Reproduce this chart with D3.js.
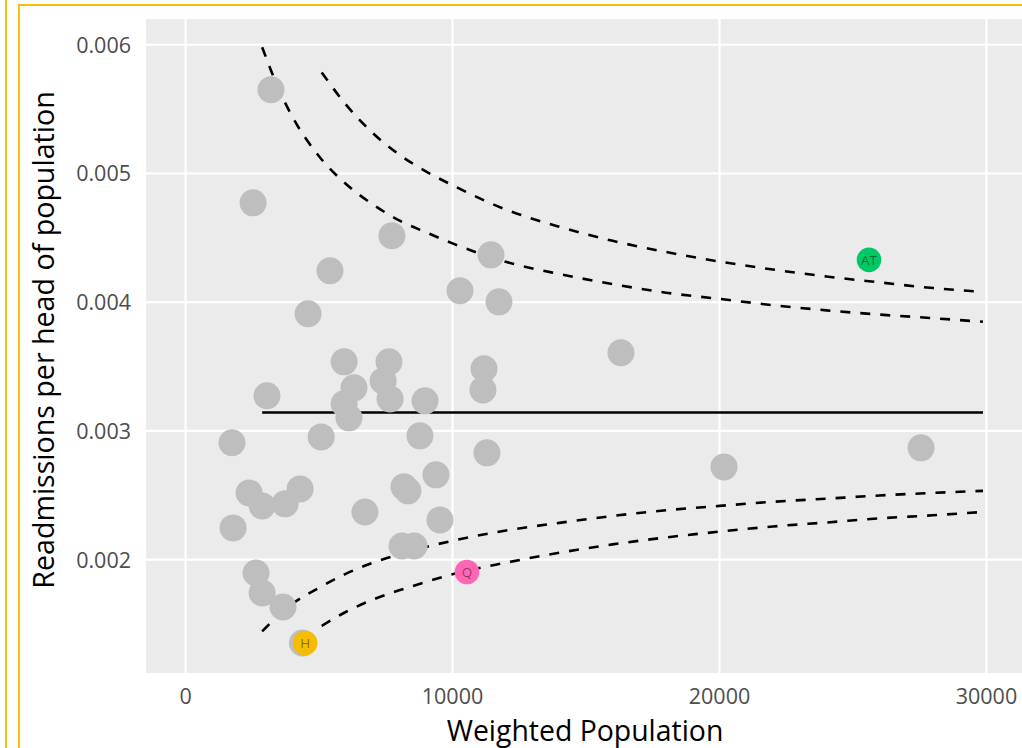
<!DOCTYPE html>
<html>
<head>
<meta charset="utf-8">
<script src="https://cdn.jsdelivr.net/npm/d3@7"></script>
<style>
  html, body { margin: 0; padding: 0; background: #ffffff; }
  svg { display: block; }
  text { font-family: "Open Sans", "Noto Sans", sans-serif; }
</style>
</head>
<body>
<svg id="chart" width="1022" height="748"></svg>
<script>
// ---- Data -------------------------------------------------------------
// Weighted population and readmission rate for each area (grey points)
const population = [
  3200, 2530, 7730, 11440, 5410, 10280, 11740, 4590, 16310, 5940,
  7620, 11180, 7400, 6310, 11140, 7660, 3050, 8970, 5940, 6120,
  5080, 8780, 1740, 27550, 11290, 9380, 20170, 2380, 4290, 8180,
  8330, 2870, 3730, 6720, 9530, 1780, 8110, 8560, 2640, 2870,
  3650, 4380
];
const readmissionRate = [
  0.00565, 0.004772, 0.004516, 0.004368, 0.004244, 0.004089, 0.004003, 0.00391, 0.003607, 0.003537,
  0.003537, 0.003483, 0.003389, 0.003335, 0.003319, 0.003249, 0.003273, 0.003234, 0.003211, 0.003102,
  0.002954, 0.002962, 0.002908, 0.002869, 0.00283, 0.002659, 0.002721, 0.002519, 0.00255, 0.002566,
  0.002535, 0.002418, 0.002434, 0.002371, 0.002309, 0.002247, 0.002107, 0.002107, 0.001897, 0.001742,
  0.001633, 0.001353
];

// Highlighted areas
const highlightLabels = ["H", "Q", "AT"];
const highlightPopulation = [4480, 10540, 25600];
const highlightRate = [0.001353, 0.001905, 0.004329];
const highlightColours = ["#F4BD00", "#FF66B3", "#00C864"];

// Overall rate (centre line)
const centrePopulation = [2870, 29870];
const centreRate = [0.003143, 0.003143];

// Inner control limits
const innerPopulation = [2870, 3500, 4000, 5000, 6000, 7000, 8000, 9000, 10000, 12000,
  14000, 16000, 18000, 20000, 22000, 24000, 26000, 28000, 29870];
const innerUpper = [0.005981, 0.00565, 0.005441, 0.005134, 0.00492, 0.004762, 0.004636, 0.004544, 0.004457, 0.004314,
  0.004219, 0.004141, 0.004074, 0.004026, 0.003977, 0.003937, 0.003904, 0.003876, 0.003848];
const innerLower = [0.001443, 0.001571, 0.001657, 0.001782, 0.00189, 0.001975, 0.002042, 0.002099, 0.002147, 0.002227,
  0.002286, 0.00234, 0.002384, 0.002418, 0.00245, 0.002474, 0.002499, 0.002519, 0.002535];

// Outer control limits
const outerPopulation = [5100, 6000, 7000, 8000, 9000, 10000, 12000, 14000, 16000, 18000,
  20000, 22000, 24000, 26000, 28000, 29870];
const outerUpper = [0.005785, 0.005537, 0.005317, 0.005147, 0.005017, 0.004909, 0.00472, 0.004586, 0.004477, 0.00439,
  0.004316, 0.004254, 0.0042, 0.004154, 0.00411, 0.004081];
const outerLower = [0.001486, 0.001594, 0.001689, 0.001762, 0.001827, 0.001887, 0.001977, 0.002054, 0.002119, 0.002173,
  0.002218, 0.002258, 0.002289, 0.002321, 0.002345, 0.002371];

// Axis ticks
const xTicks = [0, 10000, 20000, 30000];
const xTickLabels = ["0", "10000", "20000", "30000"];
const yTicks = [0.002, 0.003, 0.004, 0.005, 0.006];
const yTickLabels = ["0.002", "0.003", "0.004", "0.005", "0.006"];

// ---- Layout -----------------------------------------------------------
const svg = d3.select("#chart");
const panel = { left: 146, top: 19, right: 1026.5, bottom: 673 };

const x = d3.scaleLinear().domain([-1500, 31500]).range([145.5, 1026.5]);
const y = d3.scaleLinear().domain([0.00112, 0.0062]).range([panel.bottom, panel.top]);

// Frame around the visual
const frameColour = "#F4C20D";
svg.append("line").attr("x1", 6).attr("x2", 6).attr("y1", 0).attr("y2", 748)
  .attr("stroke", frameColour).attr("stroke-width", 2);
svg.append("line").attr("x1", 19).attr("x2", 19).attr("y1", 4).attr("y2", 748)
  .attr("stroke", frameColour).attr("stroke-width", 2);
svg.append("line").attr("x1", 18).attr("x2", 1022).attr("y1", 5).attr("y2", 5)
  .attr("stroke", frameColour).attr("stroke-width", 2);

// Plot panel
const clipId = "panel-clip";
svg.append("clipPath").attr("id", clipId).append("rect")
  .attr("x", panel.left).attr("y", panel.top)
  .attr("width", 1022 - panel.left).attr("height", panel.bottom - panel.top);

svg.append("rect")
  .attr("x", panel.left).attr("y", panel.top)
  .attr("width", 1022 - panel.left).attr("height", panel.bottom - panel.top)
  .attr("fill", "#EBEBEB");

const plot = svg.append("g").attr("clip-path", `url(#${clipId})`);

// Gridlines
const grid = plot.append("g");
grid.selectAll(".gx").data(xTicks).join("line")
  .attr("x1", d => x(d)).attr("x2", d => x(d))
  .attr("y1", panel.top).attr("y2", panel.bottom)
  .attr("stroke", "#ffffff").attr("stroke-width", 2.2);
grid.selectAll(".gy").data(yTicks).join("line")
  .attr("x1", panel.left).attr("x2", 1022)
  .attr("y1", d => y(d)).attr("y2", d => y(d))
  .attr("stroke", "#ffffff").attr("stroke-width", 2.2);

// Funnel lines
const line = d3.line().x(d => x(d[0])).y(d => y(d[1])).curve(d3.curveMonotoneX);
const zip = (a, b) => a.map((v, i) => [v, b[i]]);

const lines = plot.append("g").attr("fill", "none").attr("stroke", "#000000");
lines.append("path").attr("d", line(zip(centrePopulation, centreRate)))
  .attr("stroke-width", 2.6);
[zip(innerPopulation, innerUpper), zip(innerPopulation, innerLower),
 zip(outerPopulation, outerUpper), zip(outerPopulation, outerLower)].forEach(series => {
  lines.append("path").attr("d", line(series))
    .attr("stroke-width", 2.6).attr("stroke-dasharray", "10,10");
});

// Points
const points = population.map((p, i) => ({ p, r: readmissionRate[i] }));
plot.append("g").selectAll("circle").data(points).join("circle")
  .attr("cx", d => x(d.p)).attr("cy", d => y(d.r)).attr("r", 13.5)
  .attr("fill", "#BEBEBE");

const highlights = highlightLabels.map((lab, i) => ({
  lab, p: highlightPopulation[i], r: highlightRate[i], c: highlightColours[i]
}));
const hl = plot.append("g").selectAll("g").data(highlights).join("g");
hl.append("circle")
  .attr("cx", d => x(d.p)).attr("cy", d => y(d.r)).attr("r", 12.3)
  .attr("fill", d => d.c);
hl.append("text")
  .attr("x", d => x(d.p)).attr("y", d => y(d.r) + 5)
  .attr("text-anchor", "middle")
  .attr("font-size", 13.5)
  .attr("fill", "#000000").attr("fill-opacity", 0.45)
  .text(d => d.lab);

// Axis tick labels
const tickColour = "#4D4D4D";
svg.append("g").selectAll("text").data(xTicks).join("text")
  .attr("x", d => x(d)).attr("y", 704)
  .attr("text-anchor", "middle").attr("font-size", 21.5).attr("fill", tickColour)
  .text((d, i) => xTickLabels[i]);
svg.append("g").selectAll("text").data(yTicks).join("text")
  .attr("x", 131).attr("y", d => y(d) + 8)
  .attr("text-anchor", "end").attr("font-size", 21.5).attr("fill", tickColour)
  .text((d, i) => yTickLabels[i]);

// Axis titles
svg.append("text")
  .attr("x", 585).attr("y", 741)
  .attr("text-anchor", "middle").attr("font-size", 28.4).attr("fill", "#000000")
  .text("Weighted Population");
svg.append("text")
  .attr("transform", `translate(54, 340) rotate(-90)`)
  .attr("text-anchor", "middle").attr("font-size", 28.6).attr("fill", "#000000")
  .text("Readmissions per head of population");
</script>
</body>
</html>
